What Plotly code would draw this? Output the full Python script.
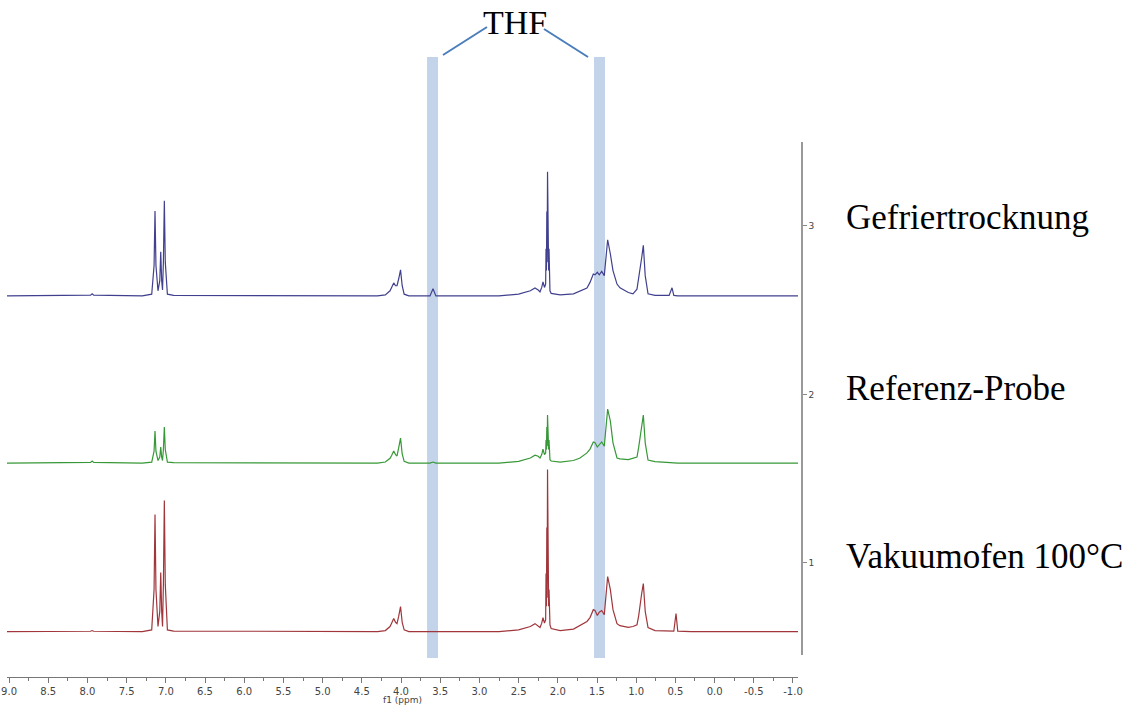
import plotly.graph_objects as go

# Shared chemical-shift positions (ppm) at which the spectra were read
ppm = [9.03, 8.00, 7.96, 7.94, 7.92, 7.30, 7.18, 7.150, 7.138, 7.126, 7.100, 7.077, 7.065, 7.053,
       7.042, 7.031, 7.019, 7.007, 6.980, 6.90, 4.30, 4.20, 4.14, 4.12, 4.093, 4.070, 4.051, 4.030,
       4.006, 3.985, 3.960, 3.90, 3.63, 3.592, 3.555, 2.75, 2.50, 2.35, 2.291, 2.250, 2.227, 2.205,
       2.189, 2.170, 2.155, 2.150, 2.145, 2.140, 2.136, 2.131, 2.126, 2.122, 2.117, 2.112, 2.100,
       2.085, 1.97, 1.80, 1.717, 1.628, 1.589, 1.547, 1.525, 1.496, 1.471, 1.440, 1.407, 1.385,
       1.364, 1.33, 1.296, 1.245, 1.207, 1.10, 1.041, 0.990, 0.968, 0.930, 0.909, 0.885, 0.849,
       0.76, 0.58, 0.543, 0.52, 0.492, 0.47, 0.30, -1.07]

# Intensities (relative to each trace's own baseline)
gefriertrocknung = [0, 0, 0.004, 0.012, 0.004, 0, 0.01, 0.18, 0.504, 0.18, 0.03, 0.09, 0.261, 0.09,
                    0.035, 0.2, 0.564, 0.2, 0.01, 0.003, 0, 0.006, 0.03, 0.05, 0.077, 0.06, 0.06, 0.10,
                    0.154, 0.06, 0.01, 0, 0, 0.042, 0, 0, 0.01, 0.03, 0.047, 0.035, 0.024, 0.05,
                    0.083, 0.05, 0.07, 0.28, 0.15, 0.50, 0.2, 0.736, 0.2, 0.50, 0.15, 0.28, 0.03,
                    0.015, 0.006, 0.012, 0.03, 0.047, 0.08, 0.13, 0.125, 0.14, 0.125, 0.145, 0.12, 0.24,
                    0.333, 0.25, 0.15, 0.07, 0.048, 0.02, 0.012, 0.04, 0.10, 0.226, 0.30, 0.12, 0.012,
                    0.003, 0.003, 0.048, 0.003, 0, 0, 0, 0]

referenz = [0, 0, 0.004, 0.012, 0.004, 0, 0.005, 0.07, 0.19, 0.07, 0.015, 0.035, 0.095, 0.035,
            0.015, 0.08, 0.214, 0.08, 0.005, 0.002, 0, 0.006, 0.028, 0.045, 0.071, 0.05, 0.042, 0.09,
            0.148, 0.055, 0.01, 0, 0, 0.006, 0, 0, 0.01, 0.03, 0.047, 0.04, 0.03, 0.05,
            0.083, 0.05, 0.06, 0.137, 0.08, 0.214, 0.1, 0.285, 0.1, 0.214, 0.08, 0.137, 0.02,
            0.012, 0.006, 0.015, 0.03, 0.06, 0.083, 0.125, 0.12, 0.095, 0.11, 0.125, 0.10, 0.22,
            0.32, 0.25, 0.12, 0.03, 0.025, 0.02, 0.03, 0.036, 0.095, 0.214, 0.285, 0.12, 0.018,
            0.008, 0.003, 0.003, 0.003, 0.003, 0, 0, 0]

vakuumofen = [0, 0, 0.002, 0.006, 0.002, 0, 0.01, 0.25, 0.694, 0.25, 0.03, 0.12, 0.35, 0.12,
              0.03, 0.28, 0.777, 0.28, 0.01, 0.003, 0, 0.006, 0.03, 0.05, 0.077, 0.055, 0.047, 0.09,
              0.148, 0.055, 0.01, 0, 0, 0.003, 0, 0, 0.01, 0.03, 0.047, 0.035, 0.024, 0.05,
              0.083, 0.05, 0.07, 0.344, 0.15, 0.617, 0.2, 0.961, 0.2, 0.617, 0.15, 0.25, 0.04,
              0.018, 0.006, 0.015, 0.035, 0.06, 0.083, 0.13, 0.125, 0.095, 0.115, 0.125, 0.10, 0.22,
              0.326, 0.25, 0.13, 0.047, 0.035, 0.025, 0.03, 0.04, 0.095, 0.226, 0.285, 0.12, 0.024,
              0.006, 0.003, 0, 0.003, 0.107, 0.003, 0, 0]

names = ["Gefriertrocknung", "Referenz-Probe", "Vakuumofen 100°C"]
series = [gefriertrocknung, referenz, vakuumofen]
offsets = [2.585, 1.593, 0.593]
colors = ["#40408f", "#379837", "#a0363b"]
label_y = [3.053, 2.033, 1.036]

x_tickvals = [9.0, 8.5, 8.0, 7.5, 7.0, 6.5, 6.0, 5.5, 5.0, 4.5, 4.0, 3.5, 3.0, 2.5, 2.0,
              1.5, 1.0, 0.5, 0.0, -0.5, -1.0]
x_ticktext = ["9.0", "8.5", "8.0", "7.5", "7.0", "6.5", "6.0", "5.5", "5.0", "4.5", "4.0",
              "3.5", "3.0", "2.5", "2.0", "1.5", "1.0", "0.5", "0.0", "-0.5", "-1.0"]
y_tickvals = [1, 2, 3]
y_ticktext = ["1", "2", "3"]

thf_bands = [(3.668, 3.528), (1.538, 1.398)]

fig = go.Figure()
for name, vals, off, col in zip(names, series, offsets, colors):
    fig.add_trace(go.Scatter(x=ppm, y=[v + off for v in vals], mode="lines", name=name,
                             line=dict(color=col, width=1.2), showlegend=False,
                             hoverinfo="skip"))

W, H = 1125, 705
shapes = []
for x0, x1 in thf_bands:
    shapes.append(dict(type="rect", xref="x", yref="paper", x0=x0, x1=x1,
                       y0=1 - 658 / H, y1=1 - 57 / H, fillcolor="#c3d4ea",
                       line=dict(width=0), layer="below"))
shapes.append(dict(type="line", xref="paper", yref="paper", x0=443 / W, y0=1 - 55 / H,
                   x1=487 / W, y1=1 - 27 / H, line=dict(color="#4a7ebb", width=2)))
shapes.append(dict(type="line", xref="paper", yref="paper", x0=544 / W, y0=1 - 29 / H,
                   x1=588 / W, y1=1 - 57 / H, line=dict(color="#4a7ebb", width=2)))

annotations = [dict(text="THF", xref="paper", yref="paper", x=515 / W, y=1 - 22 / H,
                    showarrow=False, xanchor="center", yanchor="middle",
                    font=dict(family="Liberation Serif", size=34, color="black")),
               dict(text="f1 (ppm)", xref="paper", yref="paper", x=402 / W, y=1 - 700 / H,
                    showarrow=False, xanchor="center", yanchor="middle",
                    font=dict(family="DejaVu Sans", size=9, color="#444"))]
for name, ly in zip(names, label_y):
    annotations.append(dict(text=name, xref="paper", yref="y", x=844 / W, y=ly,
                            showarrow=False, xanchor="left", yanchor="middle",
                            font=dict(family="Liberation Serif", size=35, color="black")))

fig.update_layout(
    width=W, height=H, margin=dict(l=0, r=0, t=0, b=0),
    paper_bgcolor="white", plot_bgcolor="white",
    shapes=shapes, annotations=annotations,
    xaxis=dict(domain=[7 / W, 798 / W], range=[9.026, -1.064], anchor="free",
               position=1 - 677 / H, showline=True, linecolor="#777", linewidth=1,
               ticks="outside", ticklen=5, tickcolor="#777",
               tickmode="array", tickvals=x_tickvals, ticktext=x_ticktext,
               showgrid=False, zeroline=False,
               tickfont=dict(family="DejaVu Sans", size=10, color="#444"),
               minor=dict(ticks="outside", ticklen=3, dtick=0.25, tick0=0, tickcolor="#777"),
               automargin=False),
    yaxis=dict(domain=[1 - 655 / H, 1 - 142 / H], range=[0.454, 3.498], side="right",
               anchor="free", position=802 / W, showline=True, linecolor="#999",
               linewidth=1.5, ticks="outside", ticklen=4, tickcolor="#888",
               tickmode="array", tickvals=y_tickvals, ticktext=y_ticktext,
               showgrid=False, zeroline=False,
               tickfont=dict(family="DejaVu Sans", size=9, color="#444"),
               automargin=False),
)

fig.write_html("out.html")
